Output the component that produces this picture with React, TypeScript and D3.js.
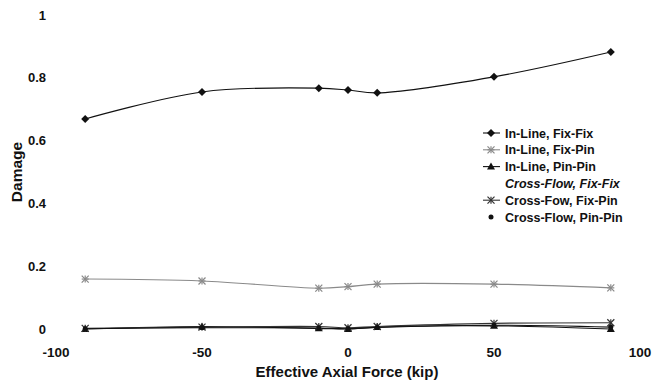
import React from 'react';
import * as d3 from 'd3';

// axial force values (kip)
const forces = [-90, -50, -10, 0, 10, 50, 90];

const inLineFixFix = [0.669, 0.755, 0.767, 0.761, 0.752, 0.803, 0.882];
const inLineFixPin = [0.159, 0.153, 0.13, 0.135, 0.143, 0.143, 0.131];
const inLinePinPin = [0.0, 0.008, 0.002, 0.0, 0.006, 0.01, 0.0];
const crossFlowFixPin = [0.002, 0.006, 0.008, 0.004, 0.008, 0.018, 0.02];
const crossFlowPinPin = [0.001, 0.004, 0.003, 0.001, 0.005, 0.012, 0.006];

const xTicks = [-100, -50, 0, 50, 100];
const yTicks = [0, 0.2, 0.4, 0.6, 0.8, 1];

const legendLabels = [
  'In-Line, Fix-Fix',
  'In-Line, Fix-Pin',
  'In-Line, Pin-Pin',
  'Cross-Flow, Fix-Fix',
  'Cross-Fow, Fix-Pin',
  'Cross-Flow, Pin-Pin',
];

type Marker = 'diamond' | 'star' | 'triangle' | 'none' | 'asterisk' | 'dot';

interface Series {
  name: string;
  values: number[] | null;
  color: string;
  marker: Marker;
}

const series: Series[] = [
  { name: legendLabels[0], values: inLineFixFix, color: '#111', marker: 'diamond' },
  { name: legendLabels[1], values: inLineFixPin, color: '#8a8a8a', marker: 'star' },
  { name: legendLabels[2], values: inLinePinPin, color: '#111', marker: 'triangle' },
  { name: legendLabels[3], values: null, color: '#111', marker: 'none' },
  { name: legendLabels[4], values: crossFlowFixPin, color: '#333', marker: 'asterisk' },
  { name: legendLabels[5], values: crossFlowPinPin, color: '#111', marker: 'dot' },
];

const W = 654;
const H = 383;
const font = 'Arial, "Liberation Sans", sans-serif';

const x = d3.scaleLinear().domain([-100, 100]).range([56, 640]);
const y = d3.scaleLinear().domain([0, 1]).range([329, 15]);

function MarkerShape({ type, cx, cy, color }: { type: Marker; cx: number; cy: number; color: string }) {
  if (type === 'diamond') {
    return <path d={`M${cx},${cy - 4}L${cx + 4},${cy}L${cx},${cy + 4}L${cx - 4},${cy}Z`} fill={color} />;
  }
  if (type === 'triangle') {
    return <path d={`M${cx},${cy - 4}L${cx + 4},${cy + 3}L${cx - 4},${cy + 3}Z`} fill={color} />;
  }
  if (type === 'dot') {
    return <circle cx={cx} cy={cy} r={2.5} fill={color} />;
  }
  if (type === 'star' || type === 'asterisk') {
    const s = 3.5;
    return (
      <g stroke={color} strokeWidth={1.2}>
        <line x1={cx - s} y1={cy - s} x2={cx + s} y2={cy + s} />
        <line x1={cx - s} y1={cy + s} x2={cx + s} y2={cy - s} />
        <line x1={cx} y1={cy - s} x2={cx} y2={cy + s} />
        {type === 'star' && <line x1={cx - s} y1={cy} x2={cx + s} y2={cy} />}
      </g>
    );
  }
  return null;
}

export default function App() {
  const line = d3
    .line<number>()
    .x((_, i) => x(forces[i]))
    .y((d) => y(d))
    .curve(d3.curveCatmullRom.alpha(0.5));

  const legendX = 491;
  const legendY = 133;
  const legendStep = 16.8;

  return (
    <svg width={W} height={H} style={{ position: 'absolute', left: 0, top: 0, background: '#fff' }}>
      {/* lines */}
      {series.map((s) =>
        s.values ? (
          <path key={s.name} d={line(s.values) || ''} fill="none" stroke={s.color} strokeWidth={1.1} />
        ) : null
      )}
      {/* markers */}
      {series.map((s) =>
        s.values
          ? s.values.map((v, i) => (
              <MarkerShape key={s.name + i} type={s.marker} cx={x(forces[i])} cy={y(v)} color={s.color} />
            ))
          : null
      )}

      {/* y tick labels */}
      {yTicks.map((t) => (
        <text key={t} x={46} y={y(t) + 4.5} textAnchor="end" fontFamily={font} fontWeight="bold" fontSize={13} fill="#111">
          {t === 0 || t === 1 ? String(t) : t.toFixed(1)}
        </text>
      ))}
      {/* x tick labels */}
      {xTicks.map((t) => (
        <text key={t} x={x(t)} y={357} textAnchor="middle" fontFamily={font} fontWeight="bold" fontSize={13.5} fill="#111">
          {t}
        </text>
      ))}

      {/* axis titles */}
      <text x={347} y={377} textAnchor="middle" fontFamily={font} fontWeight="bold" fontSize={15} fill="#111">
        Effective Axial Force (kip)
      </text>
      <text
        transform={`translate(22,172) rotate(-90)`}
        textAnchor="middle"
        fontFamily={font}
        fontWeight="bold"
        fontSize={15.5}
        fill="#111"
      >
        Damage
      </text>

      {/* legend */}
      {series.map((s, i) => {
        const ly = legendY + i * legendStep;
        return (
          <g key={s.name}>
            {s.marker !== 'none' && s.marker !== 'dot' && (
              <line x1={legendX - 8} y1={ly} x2={legendX + 9} y2={ly} stroke={s.color} strokeWidth={1.1} />
            )}
            <MarkerShape type={s.marker} cx={legendX} cy={ly} color={s.color} />
            <text
              x={legendX + 14}
              y={ly + 4.5}
              fontFamily={font}
              fontSize={12.5}
              fontWeight="bold"
              fontStyle={s.marker === 'none' ? 'italic' : 'normal'}
              fill="#111"
            >
              {s.name}
            </text>
          </g>
        );
      })}
    </svg>
  );
}
